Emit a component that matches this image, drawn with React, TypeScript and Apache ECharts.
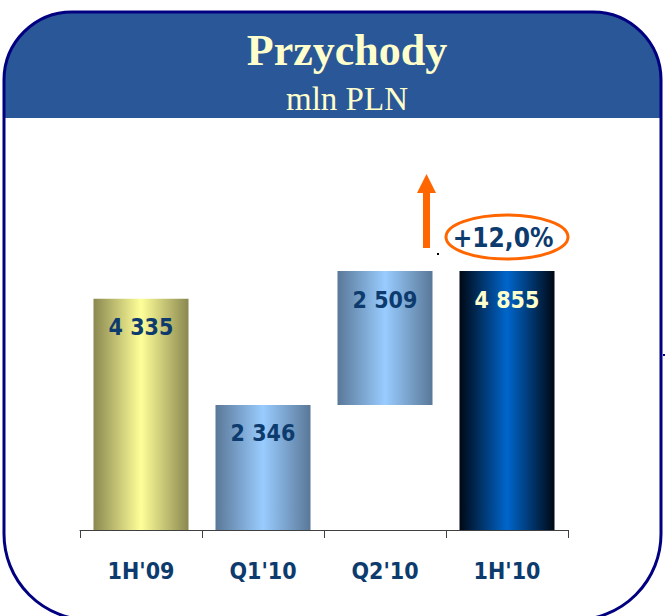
import React, { useEffect, useRef } from "react";
import * as echarts from "echarts";

const categories = ["1H'09", "Q1'10", "Q2'10", "1H'10"];
const baseValues = [0, 0, 2346, 0];
const barValues = [4335, 2346, 2509, 4855];
const changeLabel = "+12,0%";
const titleText = "Przychody";
const subtitleText = "mln PLN";

const navy = "#0D3B6E";
const sansFont = "'DejaVu Sans Condensed', 'DejaVu Sans', sans-serif";

function grad(edge: string, mid: string) {
  return new echarts.graphic.LinearGradient(0, 0, 1, 0, [
    { offset: 0, color: edge },
    { offset: 0.5, color: mid },
    { offset: 1, color: edge },
  ]);
}

const barColors = [
  grad("#8A8850", "#FFFF99"),
  grad("#5A7898", "#99CCFF"),
  grad("#5A7898", "#99CCFF"),
  grad("#000814", "#0066CC"),
];
const labelColors = [navy, navy, navy, "#FFFFCC"];

function fmt(v: number) {
  return String(v).replace(/\B(?=(\d{3})+(?!\d))/g, " ");
}

export default function App() {
  const ref = useRef<HTMLDivElement>(null);
  useEffect(() => {
    if (!ref.current) return;
    const chart = echarts.init(ref.current, undefined, { renderer: "svg" });
    chart.setOption({
      animation: false,
      backgroundColor: "#ffffff",
      grid: { left: 80, right: 98, top: 130, bottom: 86 },
      xAxis: {
        type: "category",
        data: categories,
        axisLine: { show: true, lineStyle: { color: "#404040", width: 1 } },
        axisTick: { show: true, length: 8, lineStyle: { color: "#404040" } },
        axisLabel: {
          color: navy,
          fontFamily: sansFont,
          fontWeight: "bold",
          fontSize: 23,
          margin: 29,
        },
      },
      yAxis: {
        type: "value",
        min: 0,
        max: 7500,
        show: false,
        splitLine: { show: false },
      },
      series: [
        {
          type: "bar",
          stack: "w",
          data: baseValues,
          itemStyle: { color: "transparent" },
          barWidth: 95,
          silent: true,
        },
        {
          type: "bar",
          stack: "w",
          barWidth: 95,
          data: barValues.map((v, i) => ({
            value: v,
            itemStyle: { color: barColors[i] },
            label: { color: labelColors[i] },
          })),
          label: {
            show: true,
            position: "insideTop",
            distance: 17,
            fontFamily: sansFont,
            fontWeight: "bold",
            fontSize: 23,
            formatter: (p: any) => fmt(p.value),
          },
        },
      ],
      graphic: [
        {
          type: "rect",
          z: 0,
          shape: { x: 4, y: 12, width: 657, height: 608, r: [68, 68, 86, 86] },
          style: { fill: "#ffffff", stroke: "none" },
        },
        {
          type: "rect",
          z: 1,
          shape: { x: 4, y: 12, width: 657, height: 106, r: [68, 68, 0, 0] },
          style: { fill: "#2A5797" },
        },
        {
          type: "rect",
          z: 10,
          shape: { x: 4, y: 12, width: 657, height: 608, r: [68, 68, 86, 86] },
          style: { fill: "none", stroke: "#000080", lineWidth: 3 },
        },
        {
          type: "text",
          z: 11,
          x: 347,
          y: 50,
          style: {
            text: titleText,
            fill: "#FFFFCC",
            font: "bold 44px 'Liberation Serif', serif",
            textAlign: "center",
            textVerticalAlign: "middle",
          },
        },
        {
          type: "text",
          z: 11,
          x: 347,
          y: 99,
          style: {
            text: subtitleText,
            fill: "#FFFFCC",
            font: "33px 'Liberation Serif', serif",
            textAlign: "center",
            textVerticalAlign: "middle",
          },
        },
        {
          type: "rect",
          z: 11,
          shape: { x: 423, y: 190, width: 7, height: 58 },
          style: { fill: "#FF6600" },
        },
        {
          type: "polygon",
          z: 11,
          shape: { points: [[426.5, 174], [417, 193], [436, 193]] },
          style: { fill: "#FF6600" },
        },
        {
          type: "rect",
          z: 11,
          shape: { x: 437, y: 253, width: 2, height: 2 },
          style: { fill: "#000000" },
        },
        {
          type: "ellipse",
          z: 11,
          shape: { cx: 507, cy: 237, rx: 61, ry: 22 },
          style: { fill: "none", stroke: "#FF6600", lineWidth: 3 },
        },
        {
          type: "text",
          z: 12,
          x: 503,
          y: 238,
          style: {
            text: changeLabel,
            fill: navy,
            font: "bold 26px " + sansFont,
            textAlign: "center",
            textVerticalAlign: "middle",
          },
        },
        {
          type: "rect",
          z: 11,
          shape: { x: 663, y: 354, width: 2, height: 2 },
          style: { fill: "#000080" },
        },
      ],
    });
    return () => chart.dispose();
  }, []);
  return (
    <div
      ref={ref}
      style={{ position: "fixed", left: 0, top: 0, width: 666, height: 616 }}
    />
  );
}
